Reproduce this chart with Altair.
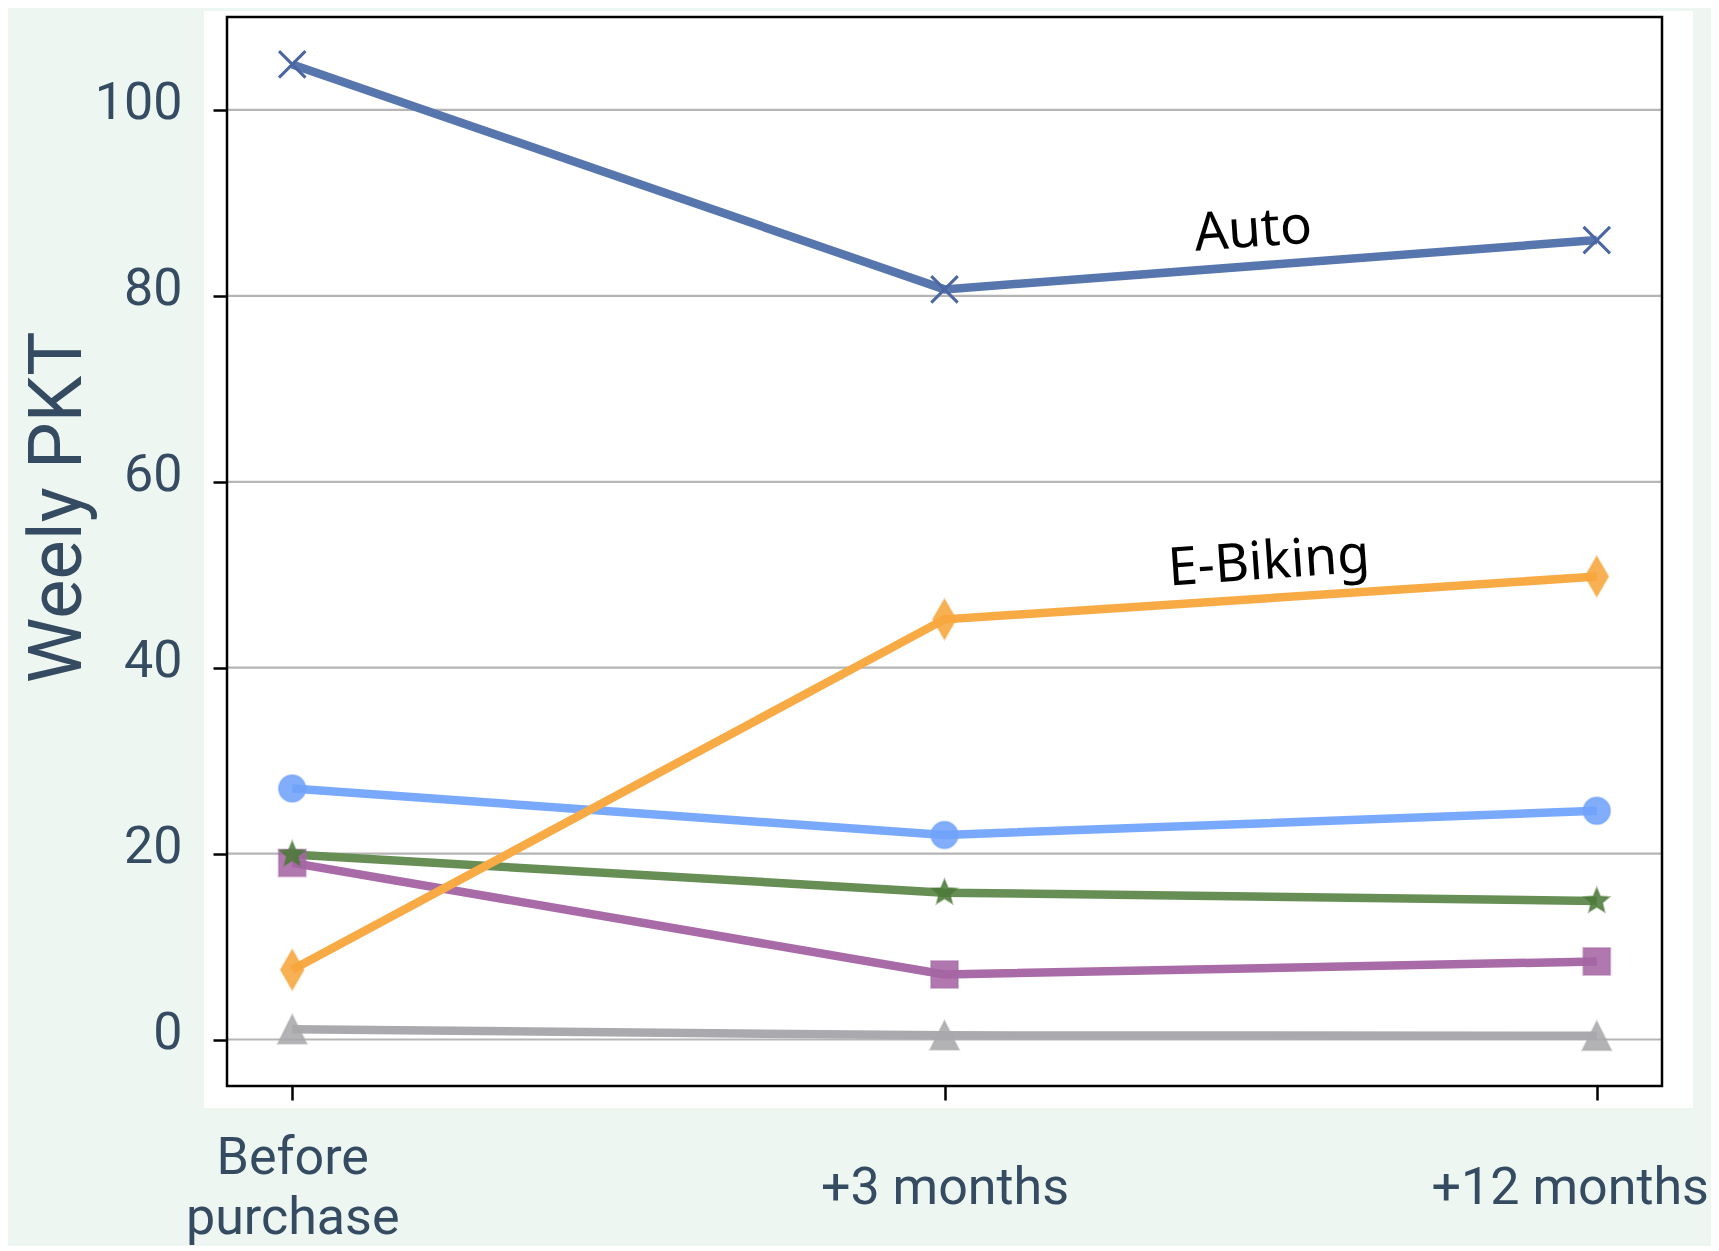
import altair as alt
import pandas as pd

# ---------------- data ----------------
periods = ["Before purchase", "+3 months", "+12 months"]
period_idx = [0, 1, 2]
period_lines = [["Before", "purchase"], ["+3 months"], ["+12 months"]]

series_names = ["Other", "Biking", "Walking", "Transit", "E-Biking", "Auto"]
other_vals = [1.1, 0.45, 0.4]
biking_vals = [19.0, 7.0, 8.4]
walking_vals = [19.9, 15.8, 14.9]
transit_vals = [27.0, 22.0, 24.6]
ebiking_vals = [7.5, 45.2, 49.8]
auto_vals = [104.9, 80.7, 86.0]
all_vals = [other_vals, biking_vals, walking_vals, transit_vals, ebiking_vals, auto_vals]

line_colors = ["#AAAAAE", "#A86BA7", "#678F55", "#79A9FC", "#F8AA45", "#5876AE"]
point_colors = ["#A8A8AC", "#A565A3", "#4C7A39", "#6FA2FA", "#F6A63C", "#4A67A4"]
STAR = ("M0,-1L0.265,-0.364L0.951,-0.309L0.428,0.139L0.588,0.809L0,0.45"
        "L-0.588,0.809L-0.428,0.139L-0.951,-0.309L-0.265,-0.364Z")
point_shapes = [
    "M0,-1L1,1L-1,1Z",            # triangle
    "square",
    STAR,
    "circle",
    "M0,-1L0.58,0L0,1L-0.58,0Z",  # tall diamond
    "M-1,-1L1,1M-1,1L1,-1",       # x
]
point_sizes = [841, 729, 690, 729, 1600, 700]

y_ticks = [0, 20, 40, 60, 80, 100]

annot_labels = ["Auto", "E-Biking"]
annot_x = [1.475, 1.499]
annot_y = [85.3, 49.6]

LABEL = "#344B61"
BG = "#EDF6F0"
W, H = 1435, 1069

rows = []
for name, vals in zip(series_names, all_vals):
    for i, v in zip(period_idx, vals):
        rows.append({"series": name, "idx": i, "value": v})
df = pd.DataFrame(rows)
grid_df = pd.DataFrame({"value": y_ticks})
annot_df = pd.DataFrame({"label": annot_labels, "idx": annot_x, "value": annot_y})
one = pd.DataFrame({"k": [0]})

# ---------------- axes / scales ----------------
def js_label(lines):
    if len(lines) > 1:
        return "[" + ", ".join("'" + s + "'" for s in lines) + "]"
    return "'" + lines[0] + "'"

label_expr = (
    f"datum.value == 0 ? {js_label(period_lines[0])} : "
    f"datum.value == 1 ? {js_label(period_lines[1])} : {js_label(period_lines[2])}"
)

x_scale = alt.Scale(domain=[-0.1, 2.1], nice=False, zero=False)
y_scale = alt.Scale(domain=[-5, 110], nice=False, zero=False)

x_axis = alt.Axis(
    values=period_idx, labelExpr=label_expr, title="", grid=False, domain=False,
    tickSize=14, tickWidth=2.5, tickColor="black",
    labelFont="Roboto", labelFontSize=52, labelColor=LABEL, labelLimit=0,
    labelPadding={"condition": {"test": "datum.value == 0", "value": 57}, "value": 87},
    labelBaseline="middle", labelLineHeight=60,
    labelOverlap=False,
    labelOffset={"condition": {"test": "datum.value == 2", "value": -27}, "value": 0},
    zindex=1,
)
y_axis = alt.Axis(
    values=y_ticks, title="Weely PKT", grid=False, domain=False,
    tickSize=14, tickWidth=2.5, tickColor="black",
    labelFont="Roboto", labelFontSize=52, labelColor=LABEL, labelLimit=0,
    labelPadding=31, labelAlign="right", labelBaseline="alphabetic", labelOffset=9,
    titleFont="Roboto", titleFontSize=74, titleColor=LABEL, titleFontWeight="normal",
    titleAngle=270, titleX=-147, titleY=490, titleAlign="center",
    titleBaseline="alphabetic",
    zindex=1,
)

X = alt.X("idx:Q", scale=x_scale, axis=x_axis)
Y = alt.Y("value:Q", scale=y_scale, axis=y_axis)

# ---------------- layers ----------------
panel = alt.Chart(one).mark_rect(fill="white").encode(
    x=alt.value(-23), x2=alt.value(W + 31), y=alt.value(-6), y2=alt.value(H + 22)
)

grid = alt.Chart(grid_df).mark_rule(color="#B5B5B5", strokeWidth=2.2).encode(y=Y)

lines = alt.Chart(df).mark_line(strokeWidth=8.5).encode(
    x=X, y=Y,
    color=alt.Color("series:N", scale=alt.Scale(domain=series_names, range=line_colors), legend=None),
    order=alt.Order("idx:Q"),
)

point_layers = []
for name, col, shp, sz in zip(series_names, point_colors, point_shapes, point_sizes):
    base = alt.Chart(df).transform_filter(f"datum.series == '{name}'")
    if name == "Auto":
        m = base.mark_point(filled=False, strokeWidth=3, opacity=1, shape=shp, size=sz, color=col)
    else:
        m = base.mark_point(
            filled=True, fill=col, fillOpacity=0.88, stroke=col, strokeWidth=2,
            strokeOpacity=0.45, opacity=1, shape=shp, size=sz,
        )
    point_layers.append(m.encode(x=X, y=Y))

frame = alt.Chart(one).mark_rect(fillOpacity=0, stroke="black", strokeWidth=2.5).encode(
    x=alt.value(0), x2=alt.value(W), y=alt.value(0), y2=alt.value(H)
)

annot = alt.Chart(annot_df).mark_text(
    font="Noto Sans", fontSize=53, angle=356, align="center", baseline="alphabetic", color="black"
).encode(x=X, y=Y, text="label:N")

chart = alt.layer(panel, grid, lines, *point_layers, frame, annot).properties(
    width=W, height=H,
    padding={"left": 219, "top": 9, "right": 49, "bottom": 160},
    autosize=alt.AutoSizeParams(type="none"),
).configure(background=BG).configure_view(strokeWidth=0)

chart.save("out.html", embed_options={"renderer": "svg", "actions": False})
